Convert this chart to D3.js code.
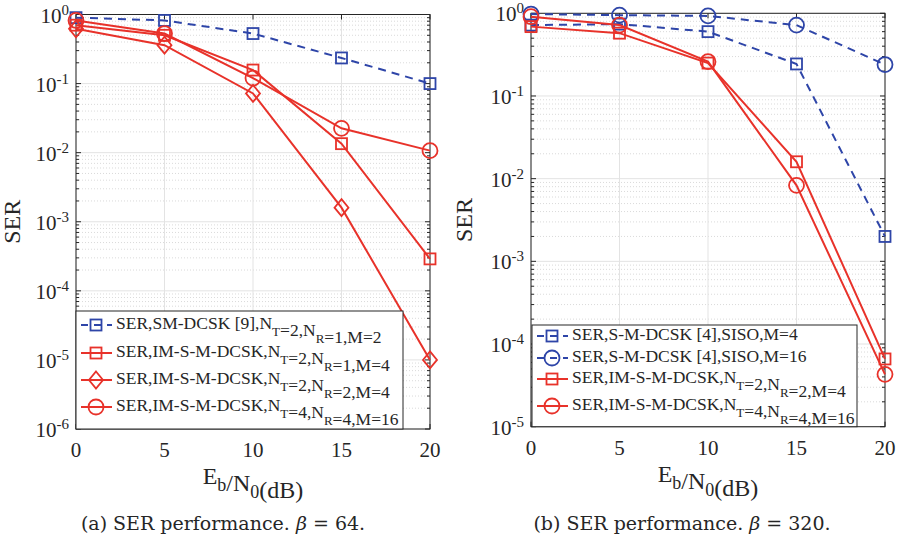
<!DOCTYPE html>
<html>
<head>
<meta charset="utf-8">
<script src="https://cdn.jsdelivr.net/npm/d3@7"></script>
<style>
  body { margin: 0; background: #fff; }
  svg { display: block; }
  text { fill: #262626; }
</style>
</head>
<body>
<div id="chart"></div>
<script>
// ---- data ----
var snr = [0, 5, 10, 15, 20];

// panel (a), beta = 64
var serSmDcsk = [0.90, 0.82, 0.53, 0.235, 0.10];
var serImNt2Nr1 = [0.70, 0.50, 0.157, 0.0135, 2.9e-4];
var serImNt2Nr2 = [0.62, 0.36, 0.072, 0.0016, 1.0e-5];
var serImNt4Nr4 = [0.82, 0.53, 0.12, 0.0225, 0.0107];

// panel (b), beta = 320
var serSmM4 = [0.72, 0.74, 0.60, 0.244, 0.002];
var serSmM16 = [0.98, 0.95, 0.93, 0.72, 0.24];
var serImM4 = [0.69, 0.575, 0.25, 0.016, 6.6e-5];
var serImM16 = [0.91, 0.72, 0.26, 0.0083, 4.3e-5];

var xTicks = [0, 5, 10, 15, 20];

var blue = "#2e45a8", red = "#e8322a";
var serifFont = "'Liberation Serif', Tinos, 'Times New Roman', 'Nimbus Roman', FreeSerif, serif";

var svg = d3.select("#chart").append("svg")
    .attr("width", 899).attr("height", 539)
    .attr("font-family", serifFont);

// label text with _X subscripts
function richText(sel, str, subSize, drop) {
    var parts = str.split(/(_[A-Za-z0-9])/);
    parts.forEach(function (p) {
        if (!p) return;
        if (p[0] === "_") {
            sel.append("tspan").attr("font-size", subSize).attr("dy", drop).text(p[1]);
            sel.append("tspan").attr("dy", -drop).text("");
        } else {
            sel.append("tspan").text(p);
        }
    });
}

function marker(g, shape, x, y, color) {
    if (shape === "square") {
        g.append("rect").attr("x", x - 5.5).attr("y", y - 5.5)
            .attr("width", 11).attr("height", 11)
            .attr("fill", "none").attr("stroke", color).attr("stroke-width", 1.8);
    } else if (shape === "circle") {
        g.append("circle").attr("cx", x).attr("cy", y).attr("r", 7.5)
            .attr("fill", "none").attr("stroke", color).attr("stroke-width", 1.8);
    } else {
        g.append("path")
            .attr("d", "M" + x + "," + (y - 8.5) + "L" + (x + 7) + "," + y +
                "L" + x + "," + (y + 8.5) + "L" + (x - 7) + "," + y + "Z")
            .attr("fill", "none").attr("stroke", color).attr("stroke-width", 1.8);
    }
}

function drawPanel(cfg) {
    var x = d3.scaleLinear().domain([0, 20]).range([cfg.left, cfg.right]);
    var y = d3.scaleLog().domain([cfg.yMin, 1]).range([cfg.bottom, cfg.top]);
    var g = svg.append("g");

    var decades = d3.range(Math.round(Math.log10(cfg.yMin)), 1);
    var minors = [];
    decades.forEach(function (e) {
        if (e === 0) return;
        for (var k = 2; k <= 9; k++) minors.push(k * Math.pow(10, e));
    });

    // grid
    g.selectAll(".minor").data(minors).enter().append("line")
        .attr("x1", cfg.left).attr("x2", cfg.right)
        .attr("y1", function (d) { return y(d); }).attr("y2", function (d) { return y(d); })
        .attr("stroke", "#d0d0d0").attr("stroke-width", 0.8).attr("stroke-dasharray", "1,2");
    g.selectAll(".majorY").data(decades).enter().append("line")
        .attr("x1", cfg.left).attr("x2", cfg.right)
        .attr("y1", function (d) { return y(Math.pow(10, d)); })
        .attr("y2", function (d) { return y(Math.pow(10, d)); })
        .attr("stroke", "#e3e3e3").attr("stroke-width", 1);
    g.selectAll(".majorX").data(xTicks).enter().append("line")
        .attr("x1", function (d) { return x(d); }).attr("x2", function (d) { return x(d); })
        .attr("y1", cfg.top).attr("y2", cfg.bottom)
        .attr("stroke", "#e3e3e3").attr("stroke-width", 1);

    // axis box with inward ticks on all sides
    var axisColor = "#262626";
    g.append("rect").attr("x", cfg.left).attr("y", cfg.top)
        .attr("width", cfg.right - cfg.left).attr("height", cfg.bottom - cfg.top)
        .attr("fill", "none").attr("stroke", axisColor).attr("stroke-width", 1);
    xTicks.forEach(function (t) {
        g.append("line").attr("x1", x(t)).attr("x2", x(t)).attr("y1", cfg.bottom).attr("y2", cfg.bottom - 5)
            .attr("stroke", axisColor);
        g.append("line").attr("x1", x(t)).attr("x2", x(t)).attr("y1", cfg.top).attr("y2", cfg.top + 5)
            .attr("stroke", axisColor);
    });
    decades.forEach(function (e) {
        var yy = y(Math.pow(10, e));
        g.append("line").attr("x1", cfg.left).attr("x2", cfg.left + 5).attr("y1", yy).attr("y2", yy).attr("stroke", axisColor);
        g.append("line").attr("x1", cfg.right).attr("x2", cfg.right - 5).attr("y1", yy).attr("y2", yy).attr("stroke", axisColor);
    });
    minors.forEach(function (m) {
        var yy = y(m);
        g.append("line").attr("x1", cfg.left).attr("x2", cfg.left + 3).attr("y1", yy).attr("y2", yy).attr("stroke", axisColor);
        g.append("line").attr("x1", cfg.right).attr("x2", cfg.right - 3).attr("y1", yy).attr("y2", yy).attr("stroke", axisColor);
    });

    // tick labels
    xTicks.forEach(function (t) {
        g.append("text").attr("x", x(t)).attr("y", cfg.bottom + 28)
            .attr("text-anchor", "middle").attr("font-size", 21).text(t);
    });
    decades.forEach(function (e) {
        var lbl = g.append("text").attr("x", cfg.left - 7).attr("y", y(Math.pow(10, e)) + 8)
            .attr("text-anchor", "end").attr("font-size", 21);
        lbl.append("tspan").text("10");
        lbl.append("tspan").attr("font-size", 15).attr("dy", -8).text(e === 0 ? "0" : String(e));
    });

    // axis titles
    var xt = g.append("text").attr("x", (cfg.left + cfg.right) / 2).attr("y", cfg.bottom + 55)
        .attr("text-anchor", "middle").attr("font-size", 24);
    richText(xt, "E_b/N_0(dB)", 18, 7);
    g.append("text").attr("transform", "translate(" + cfg.yLabelX + "," + ((cfg.top + cfg.bottom) / 2) + ") rotate(-90)")
        .attr("text-anchor", "middle").attr("font-size", 24).text("SER");

    // series
    var line = d3.line().x(function (d) { return x(d[0]); }).y(function (d) { return y(d[1]); });
    cfg.series.forEach(function (s) {
        var pts = snr.map(function (v, i) { return [v, s.values[i]]; });
        g.append("path").attr("d", line(pts)).attr("fill", "none")
            .attr("stroke", s.color).attr("stroke-width", 2)
            .attr("stroke-dasharray", s.dashed ? "8,6" : null);
        pts.forEach(function (p) { marker(g, s.shape, x(p[0]), y(p[1]), s.color); });
    });

    // legend
    var L = cfg.legend;
    g.append("rect").attr("x", L.x).attr("y", L.y).attr("width", L.w).attr("height", L.h)
        .attr("fill", "#fff").attr("stroke", axisColor).attr("stroke-width", 1);
    cfg.series.forEach(function (s, i) {
        var ry = L.rows[i];
        var mx = L.x + 20;
        g.append("line").attr("x1", L.x + 5).attr("x2", L.x + 36).attr("y1", ry).attr("y2", ry)
            .attr("stroke", s.color).attr("stroke-width", 2)
            .attr("stroke-dasharray", s.dashed ? "7,6" : null);
        marker(g, s.shape, mx, ry, s.color);
        var t = g.append("text").attr("x", L.x + 40).attr("y", ry + 4).attr("font-size", 17.5);
        richText(t, s.label, 13, 7);
    });

    // caption
    var cap = g.append("text").attr("x", cfg.capX).attr("y", 530)
        .attr("text-anchor", "middle").attr("font-size", 19)
        .style("font-family", "'DejaVu Serif', serif").style("font-weight", 300);
    cap.append("tspan").text(cfg.caption[0]);
    cap.append("tspan").attr("font-style", "italic").text("β");
    cap.append("tspan").text(cfg.caption[1]);
}

drawPanel({
    left: 76, right: 430, top: 14.5, bottom: 429, yMin: 1e-6, yLabelX: 20,
    capX: 223, caption: ["(a) SER performance. ", " = 64."],
    legend: { x: 76, y: 311, w: 327, h: 118, rows: [325, 353, 380, 407] },
    series: [
        { values: serSmDcsk, color: blue, shape: "square", dashed: true, label: "SER,SM-DCSK [9],N_T=2,N_R=1,M=2" },
        { values: serImNt2Nr1, color: red, shape: "square", label: "SER,IM-S-M-DCSK,N_T=2,N_R=1,M=4" },
        { values: serImNt2Nr2, color: red, shape: "diamond", label: "SER,IM-S-M-DCSK,N_T=2,N_R=2,M=4" },
        { values: serImNt4Nr4, color: red, shape: "circle", label: "SER,IM-S-M-DCSK,N_T=4,N_R=4,M=16" }
    ]
});

drawPanel({
    left: 531, right: 885, top: 13.3, bottom: 426.7, yMin: 1e-5, yLabelX: 472,
    capX: 682, caption: ["(b) SER performance. ", " = 320."],
    legend: { x: 532, y: 325, w: 325, h: 101.7, rows: [336, 358, 379, 406] },
    series: [
        { values: serSmM4, color: blue, shape: "square", dashed: true, label: "SER,S-M-DCSK [4],SISO,M=4" },
        { values: serSmM16, color: blue, shape: "circle", dashed: true, label: "SER,S-M-DCSK [4],SISO,M=16" },
        { values: serImM4, color: red, shape: "square", label: "SER,IM-S-M-DCSK,N_T=2,N_R=2,M=4" },
        { values: serImM16, color: red, shape: "circle", label: "SER,IM-S-M-DCSK,N_T=4,N_R=4,M=16" }
    ]
});
</script>
</body>
</html>
